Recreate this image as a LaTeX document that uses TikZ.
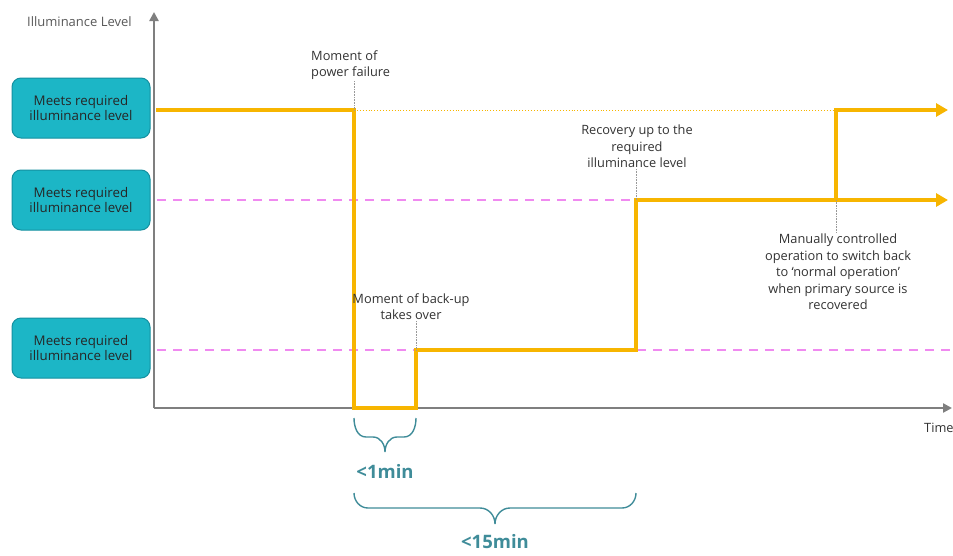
\documentclass[tikz,border=0pt]{standalone}
\usepackage{fontspec}
\setmainfont{Open Sans}
\usetikzlibrary{arrows.meta}
\definecolor{gold}{HTML}{F7B500}
\definecolor{axisgray}{HTML}{7F7F7F}
\definecolor{boxfill}{HTML}{1CB6C6}
\definecolor{boxedge}{HTML}{1490A0}
\definecolor{pinkdash}{HTML}{F08AF0}
\definecolor{bracecol}{HTML}{3F8C99}
\definecolor{labtext}{HTML}{333333}
\begin{document}
\begin{tikzpicture}[x=1pt,y=-1pt,
  lvlbox/.style={draw=boxedge,fill=boxfill,line width=1pt,rounded corners=9pt,
     minimum width=138pt,minimum height=60pt,align=center,text=black!85,inner sep=1pt,
     font=\fontsize{13.3}{15.5}\selectfont},
  lab/.style={align=center,text=labtext,font=\fontsize{12.8}{16.5}\selectfont,inner sep=1pt},
  axis/.style={draw=axisgray,line width=2.5pt,-{Triangle[length=9pt,width=9pt]}},
  level/.style={draw=gold,line width=4pt,line join=miter},
  levelarrow/.style={level,-{Triangle[length=12pt,width=13pt]}},
  guide/.style={draw=pinkdash,line width=1.6pt,dash pattern=on 9pt off 7pt},
  marker/.style={draw=gray!80,line width=0.6pt,densely dotted},
  brace/.style={draw=bracecol,line width=1.4pt},
  timelab/.style={text=bracecol,font=\bfseries\fontsize{18.5}{20}\selectfont}]
\useasboundingbox (0,0) rectangle (953,555);
\fill[white] (0,0) rectangle (953,555);

% axes
\coordinate (O) at (154,408);
\coordinate (Ytop) at (154,12);
\coordinate (Xend) at (952,408);
\draw[axis] (O) -- (Ytop);
\draw[axis] (O) -- (Xend);
\node[lab,anchor=west,text=gray!70!black,font=\fontsize{13}{15}\selectfont] (ylab) at (26,22) {Illuminance Level};
\node[lab,anchor=west] (xlab) at (923,428) {Time};

% boxes
\node[lvlbox] (b1) at (81,108) {Meets required\\illuminance level};
\node[lvlbox] (b2) at (81,200) {Meets required\\illuminance level};
\node[lvlbox] (b3) at (81,348) {Meets required\\illuminance level};

% guide lines
\coordinate (g2a) at (157,200);
\coordinate (g2b) at (636,200);
\coordinate (g3a) at (157,350);
\coordinate (g3b) at (953,350);
\draw[guide] (g2a) -- (g2b);
\draw[guide] (g3a) -- (g3b);
\coordinate (t1) at (354,110);
\coordinate (t2) at (836,110);
\draw[draw=gold,line width=0.9pt,dotted] (t1) -- (t2);

% level path
\coordinate (p0) at (156,110);
\coordinate (p1) at (354,110);
\coordinate (p2) at (354,408);
\coordinate (p3) at (416,408);
\coordinate (p4) at (416,350);
\coordinate (p5) at (636,350);
\coordinate (p6) at (636,200);
\coordinate (p7) at (948,200);
\coordinate (q0) at (836,200);
\coordinate (q1) at (836,110);
\coordinate (q2) at (948,110);
\draw[levelarrow] (p0) -- (p1) -- (p2) -- (p3) -- (p4) -- (p5) -- (p6) -- (p7);
\draw[levelarrow] (q0) -- (q1) -- (q2);

% annotation labels
\node[lab,align=left,anchor=south west] (l1) at (310,81) {Moment of\\power failure};
\node[lab,anchor=south] (l2) at (411,321) {Moment of back-up\\takes over};
\node[lab,anchor=south] (l3) at (637,169) {Recovery up to the\\required\\illuminance level};
\node[lab,anchor=north] (l4) at (838,233) {Manually controlled\\operation to switch back\\to `normal operation'\\when primary source is\\recovered};
\draw[marker] (l1.south west -| p1) -- (p1);
\draw[marker] (l2.south -| p4) -- (p4);
\draw[marker] (l3.south -| p6) -- (p6);
\draw[marker] (q0) -- (l4.north -| q0);

% braces
\coordinate (s1) at (354,418);
\coordinate (s2) at (416,418);
\coordinate (sm) at (385,452);
\draw[brace] (s1) to[out=-90,in=180] (366,437) -- (373,437)
  to[out=0,in=90] (sm) to[out=90,in=180] (397,437) -- (404,437) to[out=0,in=-90] (s2);
\node[timelab] (m1) at (385,471) {<1min};
\coordinate (u1) at (354,493);
\coordinate (u2) at (636,493);
\coordinate (um) at (495,524);
\draw[brace] (u1) to[out=-90,in=180] (368,508) -- (480,508)
  to[out=0,in=90] (um) to[out=90,in=180] (510,508) -- (622,508) to[out=0,in=-90] (u2);
\node[timelab] (m2) at (495,542) {<15min};
\end{tikzpicture}
\end{document}
